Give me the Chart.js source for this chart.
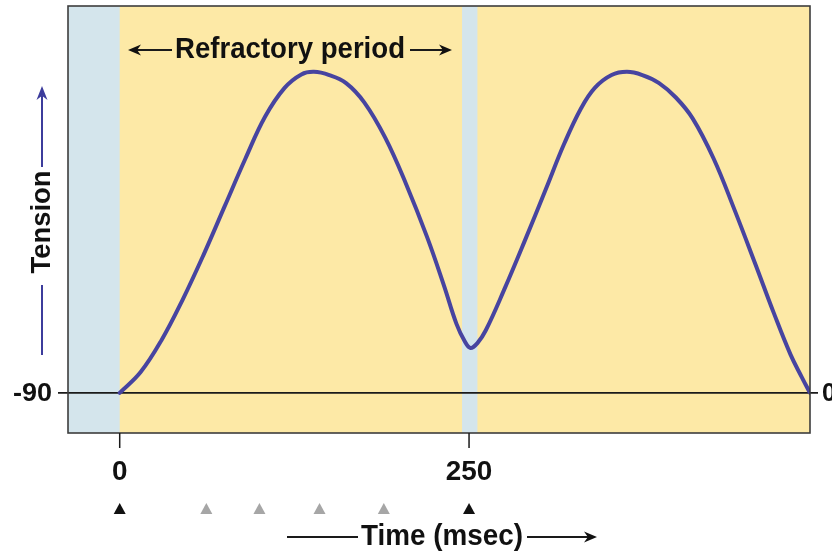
<!DOCTYPE html>
<html lang="en">
<head>
    <meta charset="UTF-8">
    <title>Tension and refractory period</title>
    <script src="https://cdn.jsdelivr.net/npm/chart.js@4.4.0/dist/chart.umd.min.js"></script>
    <style>
        html, body { margin: 0; padding: 0; background: #ffffff; }
        #wrap { width: 832px; height: 551px; }
    </style>
</head>
<body>
    <div id="wrap"><canvas id="tensionChart" width="832" height="551"></canvas></div>

    <script>
        // Curve: time (ms) vs tension (peak = 100)
        const timeMs = [0, 15, 30, 45, 60, 75, 90, 104, 118, 130, 139, 150, 162, 175, 190, 205, 220, 232, 241, 247, 251,
                        256, 262, 275, 290, 305, 318, 330, 340, 352, 363, 374, 386, 398, 410, 425, 440, 455, 468, 480, 488, 494];
        const tension = [0, 6.5, 16.5, 29, 43, 58, 73, 86, 95, 99.2, 100, 99, 96.5, 90.5, 79.5, 65, 48.5, 33.5, 21.5, 16, 14,
                         15.5, 19.5, 32, 47.5, 63.5, 77.5, 88.5, 95, 99, 100, 99, 96.5, 92, 85.5, 73, 57, 40, 25, 12, 5, 0];

        // Shaded (blue) intervals, ms
        const bandStart = [-37, 245];
        const bandEnd = [0, 256];

        // Stimulus markers, ms (black = effective, grey = during refractory period)
        const stimulusMs = [0, 62, 100, 143, 189, 250];
        const stimulusDark = [true, false, false, false, false, true];

        // x tick labels
        const xTicks = [0, 250];
        const xTickLabels = ['0', '250'];

        const FONT = "'Liberation Sans', Arial, sans-serif";

        // draw bold text squeezed to a given width
        function fitText(ctx, text, x, y, width, size, align) {
            ctx.save();
            ctx.font = 'bold ' + size + 'px ' + FONT;
            const w = ctx.measureText(text).width;
            const k = width / w;
            ctx.translate(x, y);
            ctx.scale(k, 1);
            ctx.textBaseline = 'middle';
            ctx.textAlign = align || 'center';
            ctx.fillText(text, 0, 0);
            ctx.restore();
        }

        function arrowHead(ctx, tipX, tipY, dirX, dirY, len, half) {
            const px = -dirY, py = dirX;
            ctx.beginPath();
            ctx.moveTo(tipX, tipY);
            ctx.lineTo(tipX - dirX * len + px * half, tipY - dirY * len + py * half);
            ctx.lineTo(tipX - dirX * len * 0.7, tipY - dirY * len * 0.7);
            ctx.lineTo(tipX - dirX * len - px * half, tipY - dirY * len - py * half);
            ctx.closePath();
            ctx.fill();
        }

        const decor = {
            id: 'decor',
            beforeDatasetsDraw(chart) {
                const { ctx, chartArea: a, scales: { x, y } } = chart;
                ctx.save();
                ctx.fillStyle = '#fde9a6';
                ctx.fillRect(a.left, a.top, a.right - a.left, a.bottom - a.top);
                ctx.fillStyle = '#d4e5ec';
                bandStart.forEach((s, i) => {
                    const x0 = Math.max(x.getPixelForValue(s), a.left);
                    const x1 = x.getPixelForValue(bandEnd[i]);
                    ctx.fillRect(x0, a.top, x1 - x0, a.bottom - a.top);
                });
                // baseline
                const y0 = y.getPixelForValue(0);
                ctx.strokeStyle = '#1a1a1a';
                ctx.lineWidth = 1.6;
                ctx.beginPath();
                ctx.moveTo(a.left - 10, y0);
                ctx.lineTo(a.right + 8, y0);
                ctx.stroke();
                ctx.restore();
            },
            afterDraw(chart) {
                const { ctx, chartArea: a, scales: { x, y } } = chart;
                ctx.save();
                // frame
                ctx.strokeStyle = '#3d3d3d';
                ctx.lineWidth = 1.6;
                ctx.strokeRect(a.left, a.top, a.right - a.left, a.bottom - a.top);

                ctx.fillStyle = '#111111';
                ctx.strokeStyle = '#1a1a1a';
                // x ticks and labels
                xTicks.forEach((t, i) => {
                    const px = x.getPixelForValue(t);
                    ctx.lineWidth = 1.5;
                    ctx.beginPath();
                    ctx.moveTo(px, a.bottom);
                    ctx.lineTo(px, a.bottom + 15);
                    ctx.stroke();
                    fitText(ctx, xTickLabels[i], px, 472, xTickLabels[i].length * 15.5, 28);
                });

                // y labels at the baseline
                const y0 = y.getPixelForValue(0);
                fitText(ctx, '-90', 52, y0 + 1, 39, 26, 'right');
                fitText(ctx, '0', a.right + 12, y0 + 1, 14, 26, 'left');

                // stimulus triangles
                stimulusMs.forEach((t, i) => {
                    const px = x.getPixelForValue(t);
                    ctx.fillStyle = stimulusDark[i] ? '#111111' : '#a6a6a6';
                    ctx.beginPath();
                    ctx.moveTo(px, 503);
                    ctx.lineTo(px + 6, 514);
                    ctx.lineTo(px - 6, 514);
                    ctx.closePath();
                    ctx.fill();
                });

                // Refractory period label
                ctx.fillStyle = '#111111';
                fitText(ctx, 'Refractory period', 290, 50, 230, 29);
                ctx.lineWidth = 2;
                ctx.beginPath();
                ctx.moveTo(172, 50); ctx.lineTo(135, 50);
                ctx.moveTo(410, 50); ctx.lineTo(445, 50);
                ctx.stroke();
                arrowHead(ctx, 128, 50, -1, 0, 13, 5.5);
                arrowHead(ctx, 452, 50, 1, 0, 13, 5.5);

                // Time axis title
                fitText(ctx, 'Time (msec)', 442, 537, 162, 29);
                ctx.beginPath();
                ctx.moveTo(287, 537); ctx.lineTo(358, 537);
                ctx.moveTo(527, 537); ctx.lineTo(590, 537);
                ctx.stroke();
                arrowHead(ctx, 597, 537, 1, 0, 13, 5.5);

                // Tension axis title (vertical)
                ctx.save();
                ctx.translate(42, 222);
                ctx.rotate(-Math.PI / 2);
                fitText(ctx, 'Tension', 0, 0, 103, 28);
                ctx.restore();
                ctx.strokeStyle = '#3c3c9c';
                ctx.fillStyle = '#3c3c9c';
                ctx.lineWidth = 2;
                ctx.beginPath();
                ctx.moveTo(42, 355); ctx.lineTo(42, 285);
                ctx.moveTo(42, 167); ctx.lineTo(42, 96);
                ctx.stroke();
                arrowHead(ctx, 42, 86, 0, -1, 14, 5.5);
                ctx.restore();
            }
        };

        const ctx = document.getElementById('tensionChart').getContext('2d');
        new Chart(ctx, {
            type: 'line',
            data: {
                datasets: [{
                    label: 'Tension',
                    data: timeMs.map((t, i) => ({ x: t, y: tension[i] })),
                    borderColor: '#4744a0',
                    borderWidth: 4,
                    pointRadius: 0,
                    fill: false,
                    tension: 0.4,
                    borderCapStyle: 'round',
                    borderJoinStyle: 'round'
                }]
            },
            options: {
                responsive: false,
                animation: false,
                events: [],
                layout: { padding: { left: 68, right: 22, top: 6, bottom: 118 } },
                plugins: {
                    legend: { display: false },
                    tooltip: { enabled: false }
                },
                scales: {
                    x: { type: 'linear', min: -37, max: 494, display: false },
                    y: { type: 'linear', min: -12.5, max: 120.5, display: false }
                }
            },
            plugins: [decor]
        });
    </script>
</body>
</html>
